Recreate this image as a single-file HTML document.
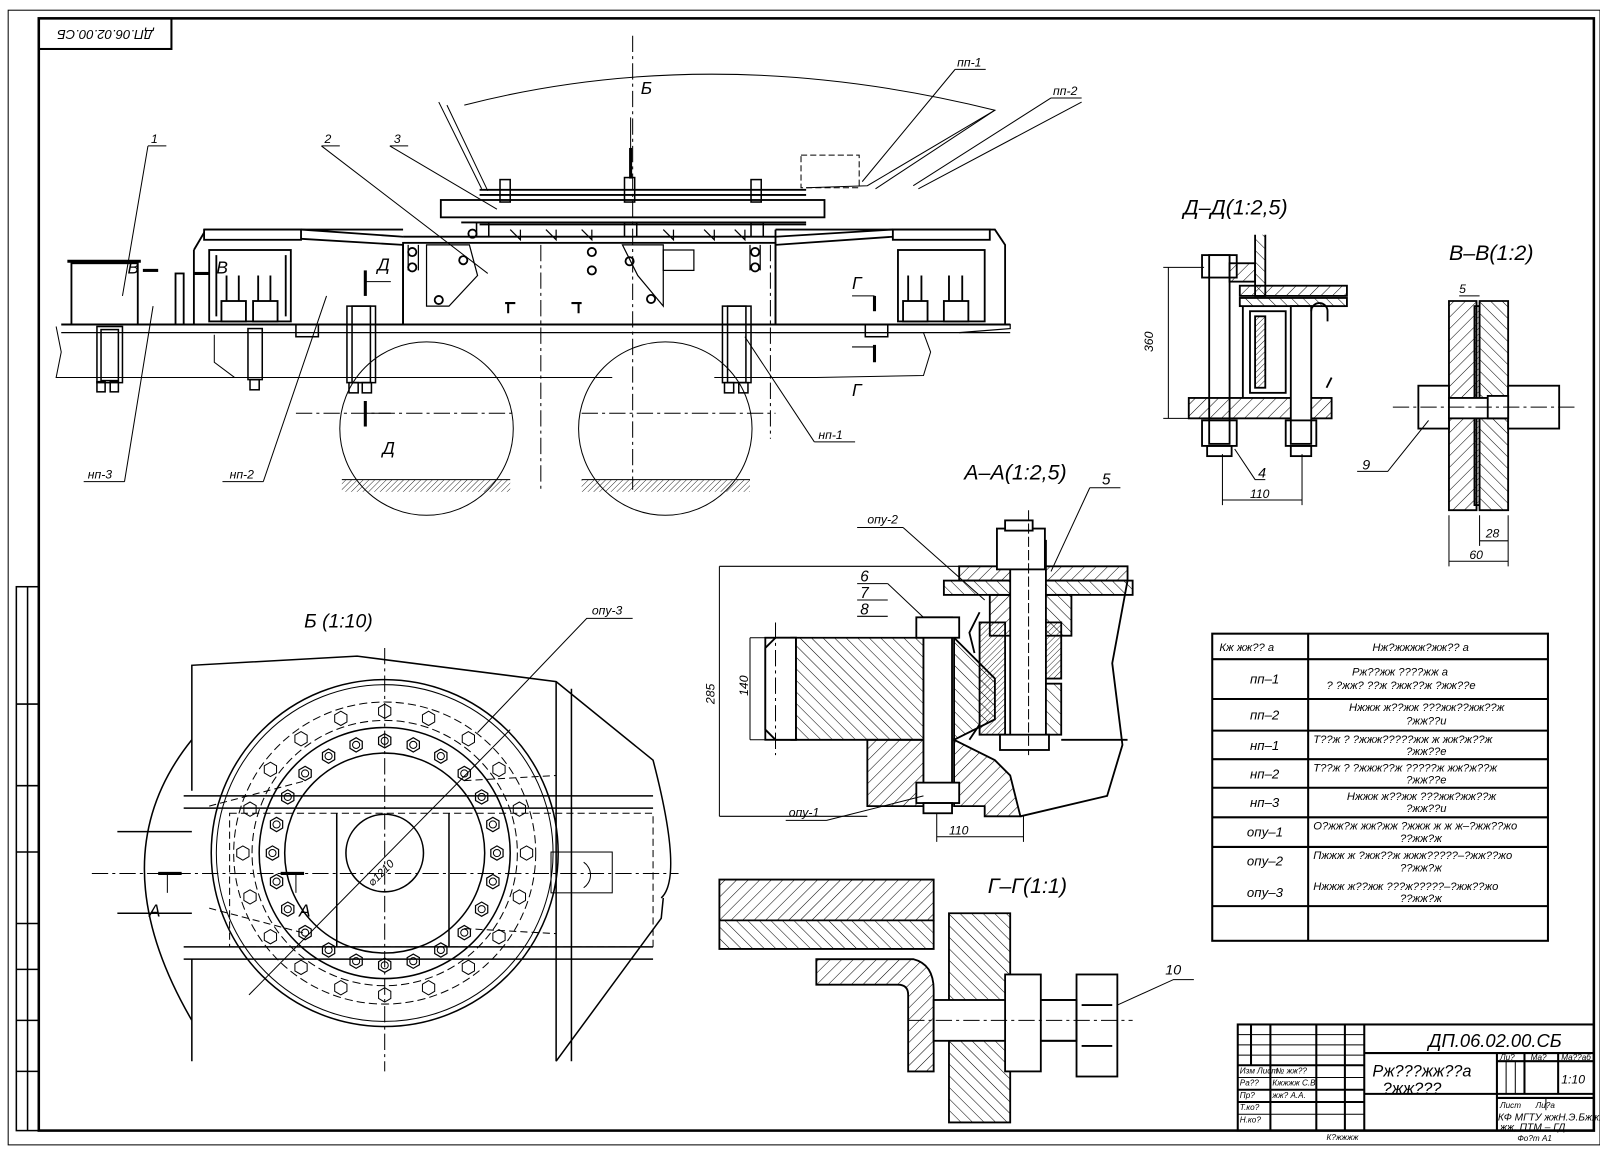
<!DOCTYPE html>
<html><head><meta charset="utf-8"><style>
html,body{margin:0;padding:0;background:#fff;}
svg{display:block;}
text{font-family:"Liberation Sans","DejaVu Sans",sans-serif;font-style:italic;fill:#000;}
</style></head><body>
<svg width="1600" height="1151" viewBox="0 0 1568 1128" xmlns="http://www.w3.org/2000/svg">
<defs>
<pattern id="h" width="8" height="8" patternUnits="userSpaceOnUse" patternTransform="rotate(45)"><line x1="0" y1="0" x2="0" y2="8" stroke="#000" stroke-width="1"/></pattern>
<pattern id="h2" width="8" height="8" patternUnits="userSpaceOnUse" patternTransform="rotate(-45)"><line x1="0" y1="0" x2="0" y2="8" stroke="#000" stroke-width="1"/></pattern>
<pattern id="h3" width="4" height="4" patternUnits="userSpaceOnUse" patternTransform="rotate(45)"><line x1="0" y1="0" x2="0" y2="4" stroke="#000" stroke-width="0.8"/></pattern>
<g id="hb"><polygon points="-6,-3.5 0,-7 6,-3.5 6,3.5 0,7 -6,3.5" fill="none" stroke="#000" stroke-width="1.2"/><circle r="3.5" fill="none" stroke="#000"/></g>
<g id="hd"><polygon points="-6,-3.5 0,-7 6,-3.5 6,3.5 0,7 -6,3.5" fill="none" stroke="#000" stroke-width="1"/></g>
</defs>
<rect width="1568" height="1128" fill="#fff"/>
<rect x="8" y="10" width="1560" height="1112" fill="none" stroke="#000" stroke-width="1"/>
<rect x="38" y="18" width="1524" height="1090" fill="none" stroke="#000" stroke-width="2.5"/>
<rect x="38" y="18" width="130" height="30" fill="none" stroke="#000" stroke-width="2"/>
<text x="103" y="33" font-size="13" text-anchor="middle" transform="rotate(180 103 33)" dominant-baseline="middle">ДП.06.02.00.СБ</text>
<g stroke="#000" fill="none" stroke-width="1.5">
<rect x="16" y="575" width="22" height="533"/>
<line x1="27" y1="575" x2="27" y2="1108"/>
<line x1="16" y1="690" x2="38" y2="690"/><line x1="16" y1="770" x2="38" y2="770"/>
<line x1="16" y1="835" x2="38" y2="835"/><line x1="16" y1="905" x2="38" y2="905"/>
<line x1="16" y1="950" x2="38" y2="950"/><line x1="16" y1="1000" x2="38" y2="1000"/><line x1="16" y1="1050" x2="38" y2="1050"/>
</g>

<g stroke="#000" fill="none" stroke-width="1.8">
<path d="M455,103 Q700,40 975,108 L850,182 L790,184" stroke-width="1"/>
<path d="M430,100 L472,185 M438,103 L478,187" stroke-width="1"/>
<path d="M975,108 L858,185 M1060,100 L900,185" stroke-width="1"/>
<rect x="785" y="152" width="57" height="32" stroke-dasharray="6,3" stroke-width="1"/>
<rect x="432" y="196" width="376" height="17"/>
<line x1="470" y1="186" x2="790" y2="186"/><line x1="470" y1="191" x2="790" y2="191"/>
<line x1="452" y1="218" x2="790" y2="218"/>
<line x1="470" y1="220" x2="790" y2="220"/>
<g stroke-width="1.5">
<rect x="490" y="176" width="10" height="22"/><rect x="612" y="174" width="10" height="24"/><rect x="736" y="176" width="10" height="22"/>
<rect x="467" y="218" width="12" height="14"/><rect x="612" y="218" width="12" height="14"/><rect x="736" y="218" width="12" height="14"/>
</g>
<g stroke-width="1.2">
<path d="M500,225 l10,10 l0,-10 M535,225 l10,10 l0,-10 M570,225 l10,10 l0,-10 M650,225 l10,10 l0,-10 M690,225 l10,10 l0,-10 M720,225 l10,10 l0,-10"/>
</g>
<rect x="395" y="238" width="365" height="80"/>
<line x1="395" y1="232" x2="760" y2="232"/>
<line x1="60" y1="318" x2="990" y2="318" stroke-width="2"/>
<line x1="60" y1="326" x2="990" y2="326" stroke-width="1.2"/>
<rect x="70" y="258" width="65" height="60"/>
<line x1="66" y1="256" x2="138" y2="256" stroke-width="3"/>
<path d="M200,225 L395,225 M190,245 L200,228 M190,245 L190,318 M395,240 L395,318"/>
<rect x="200" y="225" width="95" height="10"/>
<path d="M295,225 L395,232 M295,234 L395,240"/>
<rect x="205" y="245" width="80" height="70"/>
<path d="M212,250 L212,310 M280,250 L280,310"/>
<rect x="217" y="295" width="24" height="20"/><rect x="248" y="295" width="24" height="20"/>
<path d="M222,270 v25 M234,270 v25 M253,270 v25 M265,270 v25"/>
<rect x="172" y="268" width="8" height="50"/>
<path d="M760,225 L975,225 L985,240 L985,318 M760,225 L760,318"/>
<rect x="875" y="225" width="95" height="10"/>
<rect x="880" y="245" width="85" height="70"/>
<rect x="885" y="295" width="24" height="20"/><rect x="925" y="295" width="24" height="20"/>
<path d="M890,270 v25 M903,270 v25 M930,270 v25 M943,270 v25"/>
<path d="M760,232 L875,225 M760,240 L875,232"/>
<path d="M55,320 L60,345 L55,370 L160,370 M210,328 L210,355 L230,370 M130,370 L600,370" stroke-width="1"/>
<path d="M740,326 L905,326 L912,345 L905,368 L800,370 L700,370" stroke-width="1"/>
<g stroke-width="1.5">
<rect x="95" y="320" width="25" height="55"/><rect x="99" y="323" width="17" height="50"/>
<rect x="95" y="374" width="8" height="10"/><rect x="108" y="374" width="8" height="10"/>
<rect x="243" y="322" width="14" height="50"/><rect x="245" y="372" width="9" height="10"/>
<rect x="340" y="300" width="28" height="75"/><rect x="345" y="300" width="18" height="75"/>
<rect x="342" y="375" width="9" height="10"/><rect x="355" y="375" width="9" height="10"/>
<rect x="708" y="300" width="28" height="75"/><rect x="713" y="300" width="18" height="75"/>
<rect x="710" y="375" width="9" height="10"/><rect x="724" y="375" width="9" height="10"/>
<rect x="290" y="318" width="22" height="12"/><rect x="848" y="318" width="22" height="12"/>
</g>
<path d="M418,240 L460,240 L468,270 L440,300 L418,300 Z M610,240 L650,240 L650,300 L625,270 Z" stroke-width="1.2"/>
<path d="M400,240 v25 M410,240 v25 M735,240 v25 M745,240 v25" stroke-width="1.2"/>
<circle cx="404" cy="247" r="4"/><circle cx="404" cy="262" r="4"/><circle cx="740" cy="247" r="4"/><circle cx="740" cy="262" r="4"/>
<circle cx="454" cy="255" r="4"/><circle cx="430" cy="294" r="4"/><circle cx="617" cy="256" r="4"/><circle cx="638" cy="293" r="4"/>
<circle cx="580" cy="247" r="4"/><circle cx="580" cy="265" r="4"/><circle cx="463" cy="229" r="4"/>
<path d="M495,297 h10 M498,297 v10 M560,297 h10 M567,297 v10" stroke-width="2"/>
<rect x="650" y="245" width="30" height="20" stroke-width="1.2"/>
<path d="M930,318 L990,318 L990,322 L940,326" stroke-width="1.2"/>
<circle cx="418" cy="420" r="85" stroke-width="1"/>
<circle cx="652" cy="420" r="85" stroke-width="1"/>
<line x1="290" y1="405" x2="505" y2="405" stroke-width="1" stroke-dasharray="16,4,3,4"/>
<line x1="570" y1="405" x2="760" y2="405" stroke-width="1" stroke-dasharray="16,4,3,4"/>
<line x1="620" y1="35" x2="620" y2="480" stroke-width="1" stroke-dasharray="16,4,3,4"/>
<line x1="530" y1="240" x2="530" y2="480" stroke-width="1" stroke-dasharray="16,4,3,4"/>
<line x1="755" y1="240" x2="755" y2="430" stroke-width="1" stroke-dasharray="16,4,3,4"/>
<line x1="335" y1="470" x2="500" y2="470" stroke-width="1"/>
<line x1="570" y1="470" x2="735" y2="470" stroke-width="1"/>
</g>
<rect x="335" y="470" width="165" height="12" fill="url(#h3)"/>
<rect x="570" y="470" width="165" height="12" fill="url(#h3)"/>
<g stroke="#000" stroke-width="3"><line x1="358" y1="265" x2="358" y2="290"/><line x1="358" y1="393" x2="358" y2="418"/><line x1="857" y1="290" x2="857" y2="305"/><line x1="857" y1="338" x2="857" y2="355"/><line x1="618" y1="145" x2="618" y2="175"/><line x1="140" y1="265" x2="155" y2="265"/><line x1="190" y1="268" x2="205" y2="268"/></g>
<g stroke="#000" stroke-width="1" fill="none"><path d="M358,276 h25 M358,405 h25 M835,290 h22 M835,340 h22 M618,115 v30"/></g>
<g font-size="17">
<text x="628" y="92">Б</text><text x="375" y="445">Д</text><text x="370" y="265">Д</text>
<text x="835" y="283">Г</text><text x="835" y="388">Г</text>
<text x="125" y="268">В</text><text x="212" y="268">В</text>
</g>
<g stroke="#000" stroke-width="1" fill="none">
<path d="M145,143 h18 M145,143 L120,290"/>
<path d="M315,143 h18 M315,143 L478,268"/>
<path d="M382,143 h18 M382,143 L487,205"/>
<path d="M936,68 h30 M936,68 L845,178"/>
<path d="M1030,96 h30 M1030,96 L895,182"/>
<path d="M82,472 h40 M122,472 L150,300"/>
<path d="M218,472 h40 M258,472 L320,290"/>
<path d="M798,433 h40 M798,433 L730,330"/>
</g>
<g font-size="12"><text x="148" y="140">1</text><text x="318" y="140">2</text><text x="386" y="140">3</text>
<text x="938" y="65">пп-1</text><text x="1032" y="93">пп-2</text>
<text x="86" y="469">нп-3</text><text x="225" y="469">нп-2</text><text x="802" y="430">нп-1</text></g>

<g stroke="#000" fill="none" stroke-width="1.5">
<path d="M188,775 L188,652 L350,643 L545,668 L640,745 Q670,860 648,880"/>
<path d="M188,725 Q95,840 188,1000"/>
<path d="M188,940 L188,1040 M545,1040 L648,900 L650,880"/>
<path d="M545,668 L545,1040 M560,675 L560,1040"/>
<line x1="180" y1="780" x2="640" y2="780"/><line x1="180" y1="792" x2="640" y2="792"/>
<line x1="180" y1="940" x2="640" y2="940"/><line x1="180" y1="928" x2="640" y2="928"/>
<path d="M115,815 L188,815 M115,895 L188,895"/>
<line x1="330" y1="797" x2="330" y2="928"/><line x1="440" y1="797" x2="440" y2="928"/>
<rect x="225" y="797" width="415" height="131" stroke-dasharray="7,4" stroke-width="1"/>
<rect x="540" y="835" width="60" height="40" stroke-width="1"/>
<path d="M572,845 A15,15 0 0 1 572,870" stroke-width="1"/>
<circle cx="377" cy="836" r="170"/>
<circle cx="377" cy="836" r="165" stroke-width="1"/>
<circle cx="377" cy="836" r="148" stroke-dasharray="8,4" stroke-width="1"/>
<circle cx="377" cy="836" r="130" stroke-dasharray="8,4" stroke-width="1"/>
<circle cx="377" cy="836" r="123"/>
<circle cx="377" cy="836" r="98"/>
<circle cx="377" cy="836" r="38"/>
<path d="M205,790 L300,765 M205,890 L300,915 M455,765 L545,760 M455,910 L545,915" stroke-dasharray="7,4" stroke-width="1"/>
<line x1="377" y1="635" x2="377" y2="1050" stroke-dasharray="16,4,3,4" stroke-width="1"/>
<line x1="90" y1="856" x2="665" y2="856" stroke-dasharray="16,4,3,4" stroke-width="1"/>
<line x1="244" y1="975" x2="500" y2="715" stroke-width="1"/>
<path d="M620,606 h-45 L468,718" stroke-width="1"/>
</g>
<g stroke="#000" stroke-width="3"><line x1="155" y1="856" x2="178" y2="856"/><line x1="275" y1="856" x2="298" y2="856"/></g>
<g stroke="#000" stroke-width="1"><line x1="164" y1="856" x2="164" y2="875"/><line x1="290" y1="856" x2="290" y2="875"/></g>
<g font-size="17"><text x="146" y="898">А</text><text x="293" y="898">А</text></g>
<text x="298" y="615" font-size="19">Б  (1:10)</text>
<text x="580" y="602" font-size="12">опу-3</text>
<text x="355" y="855" font-size="11" transform="rotate(-45 377 850)">⌀1210</text>
<g>
<use href="#hb" x="377" y="726"/><use href="#hb" x="405" y="730"/><use href="#hb" x="432" y="741"/><use href="#hb" x="455" y="758"/><use href="#hb" x="472" y="781"/><use href="#hb" x="483" y="808"/><use href="#hb" x="487" y="836"/><use href="#hb" x="483" y="864"/><use href="#hb" x="472" y="891"/><use href="#hb" x="455" y="914"/><use href="#hb" x="432" y="931"/><use href="#hb" x="405" y="942"/><use href="#hb" x="377" y="946"/><use href="#hb" x="349" y="942"/><use href="#hb" x="322" y="931"/><use href="#hb" x="299" y="914"/><use href="#hb" x="282" y="891"/><use href="#hb" x="271" y="864"/><use href="#hb" x="267" y="836"/><use href="#hb" x="271" y="808"/><use href="#hb" x="282" y="781"/><use href="#hb" x="299" y="758"/><use href="#hb" x="322" y="741"/><use href="#hb" x="349" y="730"/>
<use href="#hd" x="377" y="697"/><use href="#hd" x="420" y="704"/><use href="#hd" x="459" y="724"/><use href="#hd" x="489" y="754"/><use href="#hd" x="509" y="793"/><use href="#hd" x="516" y="836"/><use href="#hd" x="509" y="879"/><use href="#hd" x="489" y="918"/><use href="#hd" x="459" y="948"/><use href="#hd" x="420" y="968"/><use href="#hd" x="377" y="975"/><use href="#hd" x="334" y="968"/><use href="#hd" x="295" y="948"/><use href="#hd" x="265" y="918"/><use href="#hd" x="245" y="879"/><use href="#hd" x="238" y="836"/><use href="#hd" x="245" y="793"/><use href="#hd" x="265" y="754"/><use href="#hd" x="295" y="724"/><use href="#hd" x="334" y="704"/>
</g>

<text x="945" y="470" font-size="21">А–А(1:2,5)</text>
<g stroke="#000" stroke-width="1.8">
<path d="M775,625 L905,625 L905,725 L775,725 L765,715 L765,635 Z" fill="url(#h2)"/>
<rect x="750" y="625" width="30" height="100" fill="#fff"/>
<path d="M750,635 L760,625 L780,625 L780,725 L760,725 L750,715 Z" fill="#fff"/>
<path d="M935,625 L975,665 L975,705 L935,725 Z" fill="url(#h2)"/>
<path d="M850,725 L905,725 L905,790 L850,790 Z" fill="url(#h)"/>
<path d="M935,725 L975,745 L990,760 L1000,800 L965,800 L965,790 L935,790 Z" fill="url(#h)"/>
<rect x="940" y="555" width="165" height="14" fill="url(#h)"/>
<rect x="925" y="569" width="185" height="14" fill="url(#h2)"/>
<rect x="970" y="583" width="50" height="40" fill="url(#h)"/>
<rect x="1020" y="583" width="30" height="40" fill="url(#h2)"/>
<rect x="960" y="610" width="25" height="110" fill="url(#h3)"/>
<rect x="1020" y="610" width="20" height="55" fill="url(#h3)"/>
<rect x="1020" y="670" width="20" height="50" fill="url(#h2)"/>
<rect x="905" y="605" width="28" height="185" fill="#fff"/>
<rect x="898" y="605" width="42" height="20" fill="#fff"/>
<rect x="898" y="767" width="42" height="20" fill="#fff"/>
<rect x="905" y="787" width="28" height="10" fill="#fff"/>
<rect x="990" y="530" width="35" height="200" fill="#fff"/>
<rect x="977" y="518" width="47" height="40" fill="#fff"/>
<rect x="985" y="510" width="27" height="10" fill="#fff"/>
<rect x="980" y="720" width="48" height="15" fill="#fff"/>
<path d="M1040,725 L1105,725 M1105,569 L1090,650 L1100,730 L1085,780 L1000,800" fill="none"/>
<path d="M960,600 L950,620 L955,640 M960,710 L950,725" fill="none"/>
</g>
<g stroke="#000" stroke-width="1" fill="none">
<path d="M705,555 L940,555 M705,800 L850,800 M705,555 L705,800 M735,625 L760,625 M735,725 L760,725 M735,625 L735,725"/>
<path d="M918,797 L918,825 M1003,800 L1003,825 M918,820 L1003,820"/>
<path d="M840,517 h45 M885,517 L965,588"/>
<path d="M840,572 h30 M870,572 L905,605 M840,588 h30 M840,604 h30"/>
<path d="M1068,478 h30 M1068,478 L1030,560"/>
<path d="M770,804 h40 M810,804 L905,780"/>
<line x1="760" y1="610" x2="760" y2="740" stroke-dasharray="16,4,3,4"/>
<line x1="1008" y1="500" x2="1008" y2="740" stroke-dasharray="10,3"/>
</g>
<g font-size="12"><text x="850" y="513">опу-2</text><text x="773" y="800">опу-1</text><text x="930" y="818">110</text>
<text x="700" y="690" transform="rotate(-90 700 690)">285</text><text x="733" y="682" transform="rotate(-90 733 682)">140</text></g>
<g font-size="15"><text x="843" y="570">6</text><text x="843" y="586">7</text><text x="843" y="602">8</text><text x="1080" y="475">5</text></g>

<text x="968" y="875" font-size="21">Г–Г(1:1)</text>
<g stroke="#000" stroke-width="1.8">
<path d="M705,862 L915,862 L915,902 L705,902 Z" fill="url(#h)"/>
<path d="M705,902 L705,930 L915,930 L915,902" fill="url(#h2)"/>
<path d="M800,940 L895,940 Q915,945 915,970 L915,1050 L890,1050 L890,975 Q890,965 880,965 L800,965 Z" fill="url(#h)"/>
<path d="M930,895 L990,895 L990,1100 L930,1100 Z" fill="url(#h2)"/>
<rect x="915" y="980" width="140" height="40" fill="#fff"/>
<rect x="985" y="955" width="35" height="95" fill="#fff"/>
<rect x="1055" y="955" width="40" height="100" fill="#fff"/>
<path d="M1020,980 L1055,980 L1055,1020 L1020,1020" fill="none"/>
<line x1="1060" y1="985" x2="1090" y2="985"/><line x1="1060" y1="1025" x2="1090" y2="1025"/>
</g>
<line x1="890" y1="1000" x2="1110" y2="1000" stroke="#000" stroke-dasharray="16,4,3,4"/>
<path d="M1095,985 L1150,960 h20" stroke="#000" fill="none"/>
<text x="1142" y="955" font-size="14">10</text>

<text x="1160" y="210" font-size="21">Д–Д(1:2,5)</text>
<g stroke="#000" stroke-width="1.8" fill="none">
<rect x="1185" y="250" width="20" height="185" fill="#fff"/>
<rect x="1178" y="250" width="34" height="22"/>
<rect x="1178" y="412" width="34" height="25"/><rect x="1183" y="437" width="24" height="10"/>
<rect x="1205" y="258" width="25" height="18" fill="url(#h)"/>
<path d="M1230,230 L1230,290 L1240,290 L1240,230" fill="url(#h2)"/>
<rect x="1215" y="280" width="105" height="10" fill="url(#h)"/>
<rect x="1215" y="292" width="105" height="8" fill="url(#h2)"/>
<rect x="1165" y="390" width="140" height="20" fill="url(#h)"/>
<rect x="1225" y="305" width="35" height="80"/>
<rect x="1230" y="310" width="10" height="70" fill="url(#h3)"/>
<rect x="1265" y="300" width="20" height="135" fill="#fff"/>
<rect x="1260" y="412" width="30" height="25"/><rect x="1265" y="437" width="20" height="10"/>
<path d="M1285,305 a8,8 0 0 1 16,0 v10" />
<path d="M1218,300 v90 M1300,380 l5,-10"/>
</g>
<g stroke="#000" stroke-width="1" fill="none">
<path d="M1140,262 L1180,262 M1140,410 L1168,410 M1145,262 L1145,410 M1198,445 L1198,495 M1276,445 L1276,495 M1198,490 L1276,490 M1210,440 L1230,470 h10"/>
</g>
<text x="1130" y="345" font-size="12" transform="rotate(-90 1130 345)">360</text>
<text x="1225" y="488" font-size="12">110</text>
<text x="1233" y="468" font-size="14">4</text>

<text x="1420" y="255" font-size="21">В–В(1:2)</text>
<g stroke="#000" stroke-width="1.8">
<path d="M1420,295 L1447,295 L1447,500 L1420,500 Z" fill="url(#h)"/>
<path d="M1450,295 L1478,295 L1478,500 L1450,500 Z" fill="url(#h2)"/>
<rect x="1445" y="300" width="5" height="195" fill="url(#h3)"/>
<rect x="1390" y="378" width="30" height="42" fill="#fff"/>
<rect x="1420" y="390" width="58" height="20" fill="#fff"/>
<rect x="1478" y="378" width="50" height="42" fill="#fff"/>
<rect x="1458" y="388" width="20" height="22" fill="#fff"/>
</g>
<g stroke="#000" stroke-width="1" fill="none">
<line x1="1365" y1="399" x2="1545" y2="399" stroke-dasharray="16,4,3,4"/>
<path d="M1420,505 L1420,555 M1478,505 L1478,555 M1420,550 L1478,550 M1450,505 v30 M1450,530 h28 M1430,290 h20 M1330,462 h30 L1400,412"/>
</g>
<g font-size="12"><text x="1430" y="287">5</text><text x="1456" y="527">28</text><text x="1440" y="548">60</text></g>
<text x="1335" y="460" font-size="14">9</text>

<g stroke="#000" stroke-width="2" fill="none">
<rect x="1188" y="621" width="329" height="301"/>
<line x1="1282" y1="621" x2="1282" y2="922"/>
<line x1="1188" y1="646" x2="1517" y2="646"/>
<line x1="1188" y1="685" x2="1517" y2="685"/>
<line x1="1188" y1="716" x2="1517" y2="716"/>
<line x1="1188" y1="744" x2="1517" y2="744"/>
<line x1="1188" y1="772" x2="1517" y2="772"/>
<line x1="1188" y1="801" x2="1517" y2="801"/>
<line x1="1188" y1="830" x2="1517" y2="830"/>
<line x1="1188" y1="888" x2="1517" y2="888"/>
</g>
<g font-size="11">
<text x="1195" y="638">Кж жж?? а</text><text x="1345" y="638">Нж?жжжж?жж?? а</text>
<text x="1225" y="670" font-size="13">пп–1</text><text x="1225" y="705" font-size="13">пп–2</text>
<text x="1225" y="735" font-size="13">нп–1</text><text x="1225" y="763" font-size="13">нп–2</text>
<text x="1225" y="791" font-size="13">нп–3</text><text x="1222" y="820" font-size="13">опу–1</text>
<text x="1222" y="848" font-size="13">опу–2</text><text x="1222" y="879" font-size="13">опу–3</text>
<text x="1325" y="662">Рж??жж ????жж а</text><text x="1300" y="675">? ?жж? ??ж ?жж??ж ?жж??е</text>
<text x="1322" y="697">Нжжж ж??жж ???жж??жж??ж</text><text x="1378" y="710">?жж??и</text>
<text x="1287" y="728">Т??ж ? ?жжж?????жж ж жж?ж??ж</text><text x="1378" y="740">?жж??е</text>
<text x="1287" y="756">Т??ж ? ?жжж??ж ?????ж жж?ж??ж</text><text x="1378" y="768">?жж??е</text>
<text x="1320" y="784">Нжжж ж??жж ???жж?жж??ж</text><text x="1378" y="796">?жж??и</text>
<text x="1287" y="813">О?жж?ж жж?жж ?жжж ж ж ж–?жж??жо</text><text x="1372" y="825">??жж?ж</text>
<text x="1287" y="842">Пжжж ж ?жж??ж жжж?????–?жж??жо</text><text x="1372" y="854">??жж?ж</text>
<text x="1287" y="872">Нжжж ж??жж ???ж?????–?жж??жо</text><text x="1372" y="884">??жж?ж</text>
</g>

<g stroke="#000" stroke-width="2" fill="none">
<rect x="1213" y="1004" width="349" height="104"/>
<line x1="1337" y1="1004" x2="1337" y2="1108"/>
<line x1="1337" y1="1032" x2="1562" y2="1032"/>
<line x1="1337" y1="1072" x2="1562" y2="1072"/>
<line x1="1467" y1="1032" x2="1467" y2="1108"/>
<line x1="1467" y1="1040" x2="1562" y2="1040"/>
<line x1="1467" y1="1076" x2="1562" y2="1076"/>
<line x1="1494" y1="1032" x2="1494" y2="1072"/><line x1="1527" y1="1032" x2="1527" y2="1072"/>
<line x1="1226" y1="1004" x2="1226" y2="1044"/><line x1="1245" y1="1004" x2="1245" y2="1108"/>
<line x1="1290" y1="1004" x2="1290" y2="1108"/><line x1="1318" y1="1004" x2="1318" y2="1108"/>
<line x1="1213" y1="1044" x2="1337" y2="1044"/>
<line x1="1213" y1="1068" x2="1337" y2="1068"/>
<line x1="1213" y1="1080" x2="1337" y2="1080"/>
</g>
<g stroke="#000" stroke-width="1" fill="none">
<line x1="1213" y1="1014" x2="1337" y2="1014"/><line x1="1213" y1="1024" x2="1337" y2="1024"/><line x1="1213" y1="1034" x2="1337" y2="1034"/>
<line x1="1213" y1="1056" x2="1337" y2="1056"/><line x1="1213" y1="1092" x2="1337" y2="1092"/>
<line x1="1476" y1="1040" x2="1476" y2="1072"/><line x1="1485" y1="1040" x2="1485" y2="1072"/>
<line x1="1515" y1="1076" x2="1515" y2="1088"/>
</g>
<text x="1400" y="1026" font-size="18">ДП.06.02.00.СБ</text>
<g font-size="16"><text x="1345" y="1055">Рж???жж??а</text><text x="1355" y="1072">?жж???</text></g>
<g font-size="8">
<text x="1215" y="1052">Изм Лист</text><text x="1250" y="1052">№ жж??</text><text x="1215" y="1064">Ра??</text><text x="1247" y="1064">Кжжжж С.В.</text>
<text x="1215" y="1076">Пр?</text><text x="1247" y="1076">жж? А.А.</text><text x="1215" y="1088">Т.ко?</text><text x="1215" y="1100">Н.ко?</text>
<text x="1470" y="1039">Ли?</text><text x="1500" y="1039">Ма?</text><text x="1530" y="1039">Ма??аб</text>
<text x="1470" y="1086">Лист</text><text x="1505" y="1086">Ли?а</text>
</g>
<text x="1530" y="1062" font-size="12">1:10</text>
<g font-size="10"><text x="1468" y="1098">КФ МГТУ жжН.Э.Бжжж</text><text x="1470" y="1108">жж, ПТМ – ГД</text></g>
<text x="1300" y="1117" font-size="8">К?жжжж</text><text x="1487" y="1118" font-size="8">Фо?т   А1</text>
</svg>
</body></html>
